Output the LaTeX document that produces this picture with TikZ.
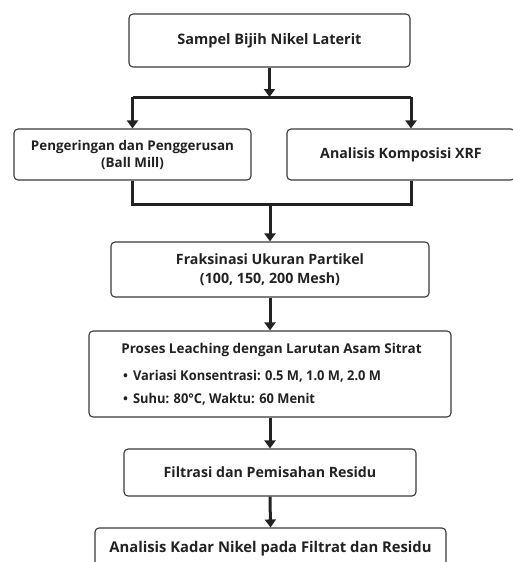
\documentclass[tikz,border=0pt]{standalone}
\usepackage{fontspec}
\setmainfont{Open Sans}
\usetikzlibrary{arrows.meta}
\definecolor{ink}{HTML}{222222}
\definecolor{edge}{HTML}{3A3A3A}
\tikzset{
  stepbox/.style={draw=edge, line width=1.1pt, rounded corners=4pt, fill=white,
    inner sep=0pt, align=center, text=ink, font=\bfseries\fontsize{14.2}{19}\selectfont},
  label/.style={text=ink, inner sep=0pt, font=\bfseries\fontsize{13.5}{16}\selectfont},
  link/.style={draw=ink, line width=3pt},
  arr/.style={link, -{Triangle[width=11pt,length=8pt]}},
}
\newcommand{\smallbul}{\raisebox{0pt}{\fontsize{13}{13}\selectfont\textbullet}\hspace{5pt}}
\begin{document}
\begin{tikzpicture}[x=1pt,y=-1pt]
\useasboundingbox (0,0) rectangle (513,562);
\clip (0,0) rectangle (513,562);
\node[stepbox, font=\bfseries\fontsize{14.5}{19}\selectfont, minimum width=281pt, minimum height=53pt] (b1) at (269.5,40.5) {Sampel Bijih Nikel Laterit};
\node[stepbox, font=\bfseries\fontsize{13.4}{17}\selectfont, minimum width=237pt, minimum height=51pt] (b2) at (132.5,154.5) {Pengeringan dan Penggerusan\\(Ball Mill)};
\node[stepbox, minimum width=228pt, minimum height=51pt] (b3) at (401,154.5) {Analisis Komposisi XRF};
\node[stepbox, minimum width=318pt, minimum height=55pt] (b4) at (270,269.5) {Fraksinasi Ukuran Partikel\\(100, 150, 200 Mesh)};
\node[stepbox, minimum width=362pt, minimum height=86pt] (b5) at (270,374) {};
\node[label] (t5) at (271.5,350) {Proses Leaching dengan Larutan Asam Sitrat};
\node[label, anchor=west] (t5a) at (123,376) {\smallbul\resizebox{248pt}{\height}{Variasi Konsentrasi: 0.5 M, 1.0 M, 2.0 M}};
\node[label, anchor=west] (t5b) at (123,399) {\smallbul\resizebox{182pt}{\height}{Suhu: 80°C, Waktu: 60 Menit}};
\node[stepbox, minimum width=292pt, minimum height=47pt] (b6) at (270,472.5) {Filtrasi dan Pemisahan Residu};
\node[stepbox, minimum width=351pt, minimum height=47pt] (b7) at (270.5,551.5) {};
\node[label, font=\bfseries\fontsize{14.8}{17}\selectfont] (t7) at (270.5,549) {Analisis Kadar Nikel pada Filtrat dan Residu};
\coordinate (j1) at (269.5,97);
\coordinate (j2) at (270,204);
\coordinate (c3) at (411,0);
\draw[arr] (b1.south) -- (j1);
\draw[link] (b2.north |- j1) -- (c3 |- j1);
\draw[arr] (b2.north |- j1) -- (b2.north);
\draw[arr] (c3 |- j1) -- (c3 |- b3.north);
\draw[link, line join=miter] (b2.south) -- (b2.south |- j2) -- (c3 |- j2) -- (c3 |- b3.south);
\draw[arr] (j2) -- (b4.north);
\draw[arr] (b4.south) -- (b5.north);
\draw[arr] (b5.south) -- (b6.north);
\draw[arr] (b6.south) -- (b7.north);
\end{tikzpicture}
\end{document}
